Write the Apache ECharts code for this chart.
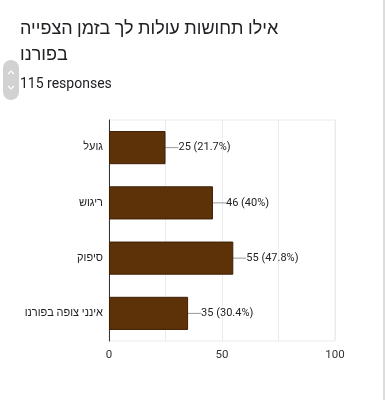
<!DOCTYPE html>
<html><head><meta charset="utf-8">
<script src="https://cdn.jsdelivr.net/npm/echarts@6/dist/echarts.min.js"></script>
<style>html,body{margin:0;padding:0;background:#fff}#c{width:385px;height:400px}</style>
</head><body><div id="c"></div>
<script>
const titleLine1 = 'אילו תחושות עולות לך בזמן הצפייה';
const titleLine2 = 'בפורנו';
const responsesText = '115 responses';
const categories = ['גועל', 'ריגוש', 'סיפוק', 'אינני צופה בפורנו'];
const values = [25, 46, 55, 35];
const percentLabels = ['21.7%', '40%', '47.8%', '30.4%'];
const xTickLabels = {0: '0', 50: '50', 100: '100'};

const font = 'Roboto, "Liberation Sans", "DejaVu Sans", sans-serif';
const chart = echarts.init(document.getElementById('c'));
chart.setOption({
  animation: false,
  backgroundColor: '#fff',
  grid: {left: 109, right: 50, top: 120, bottom: 59, show: true, borderColor: '#ebebeb', borderWidth: 1},
  xAxis: {
    type: 'value', min: 0, max: 100, interval: 25,
    axisLine: {show: false}, axisTick: {show: false},
    splitLine: {lineStyle: {color: '#ebebeb'}},
    axisLabel: {color: '#333', fontSize: 11.5, fontFamily: font, margin: 8,
      formatter: v => (xTickLabels[v] !== undefined ? xTickLabels[v] : '')}
  },
  yAxis: {
    type: 'category', data: categories, inverse: true,
    axisLine: {show: true, lineStyle: {color: '#333', width: 1}},
    axisTick: {show: false},
    axisLabel: {color: '#222', fontSize: 11, fontFamily: font, margin: 6}
  },
  series: [{
    type: 'bar', data: values, barWidth: '60%',
    itemStyle: {color: '#5e3209', borderColor: '#3e1f05', borderWidth: 1},
    label: {show: true, position: 'right', distance: 1, color: '#222', fontSize: 11, fontFamily: font,
      formatter: p => p.value + ' (' + percentLabels[p.dataIndex] + ')'},
    labelLayout: {dx: 12},
    labelLine: {show: true, lineStyle: {color: '#9a9a9a', width: 1}}
  }],
  graphic: [
    {type: 'text', left: 20, top: 20, style: {text: titleLine1, font: '18px ' + font, fill: '#202124'}},
    {type: 'text', left: 20, top: 46, style: {text: titleLine2, font: '18px ' + font, fill: '#202124'}},
    {type: 'rect', shape: {x: 3, y: 60, width: 16, height: 40, r: 8}, style: {fill: '#d2d2d2'}},
    {type: 'polyline', shape: {points: [[8, 74], [11, 71], [14, 74]]}, style: {stroke: '#fff', lineWidth: 1.2, fill: null}},
    {type: 'polyline', shape: {points: [[8, 86], [11, 89], [14, 86]]}, style: {stroke: '#fff', lineWidth: 1.2, fill: null}},
    {type: 'text', left: 20, top: 77, style: {text: responsesText, font: '14px ' + font, fill: '#202124'}},
    {type: 'rect', shape: {x: 383, y: 0, width: 2, height: 400}, style: {fill: '#dcdcdc'}}
  ]
});
</script></body></html>
